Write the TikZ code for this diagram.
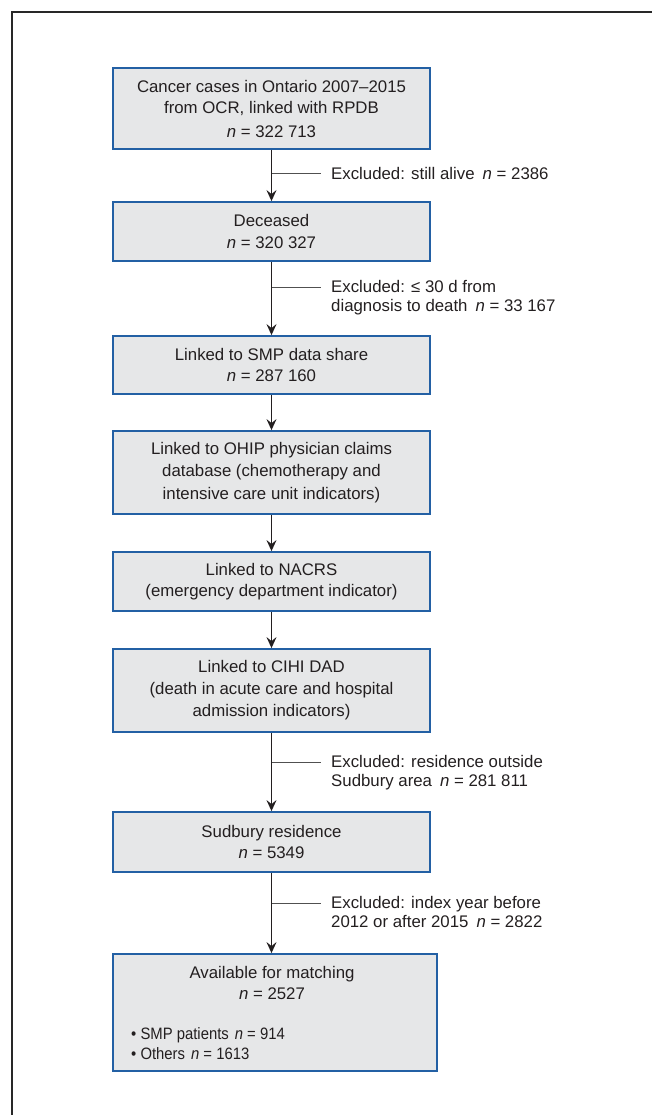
\documentclass[tikz,border=0pt]{standalone}
\usepackage{fontspec}
\setmainfont{Liberation Sans}
\usetikzlibrary{arrows.meta}
\definecolor{boxfill}{RGB}{230,231,232}
\definecolor{boxline}{RGB}{35,96,164}
\definecolor{ink}{RGB}{35,31,32}
\definecolor{exline}{RGB}{80,80,80}
\definecolor{frameline}{RGB}{40,40,40}
\newcommand{\gapn}{\hspace{8pt}\textit{n}}
\newcommand{\nn}{\textit{n}}
\tikzset{
  flowbox/.style={draw=boxline, line width=1.8pt, fill=boxfill, minimum width=317pt,
    inner sep=0pt, align=center, text=ink, font=\fontsize{16.8}{21.5}\selectfont},
  flowarrow/.style={draw=ink, line width=1.4pt, -{Stealth[length=11pt,width=10pt,inset=4pt]}},
  exclline/.style={draw=exline, line width=1pt},
  excltext/.style={anchor=north west, align=left, inner sep=0pt, text=ink,
    font=\fontsize{16.8}{19.5}\selectfont},
  plaintext/.style={inner sep=0pt, text=ink, font=\fontsize{16.8}{20.5}\selectfont},
}
\begin{document}
\begin{tikzpicture}[x=1pt,y=-1pt]
\useasboundingbox (0,0) rectangle (652,1115);
% frame (cropped)
\coordinate (fbl) at (12,1115);
\coordinate (ftl) at (12,12);
\coordinate (ftr) at (652,12);
\draw[frameline, line width=1.5pt] (fbl) -- (ftl) -- (ftr);

% boxes
\node[flowbox, minimum height=81pt] (b1) at (271.5,108.5)
  {Cancer cases in Ontario 2007–2015\\from OCR, linked with RPDB\\[2pt]\nn{} = 322 713};
\node[flowbox, minimum height=59pt] (b2) at (271.5,231.5)
  {Deceased\\\nn{} = 320 327};
\node[flowbox, minimum height=58pt] (b3) at (271.5,365)
  {Linked to SMP data share\\\nn{} = 287 160};
\node[flowbox, minimum height=83pt, font=\fontsize{16.8}{22.5}\selectfont] (b4) at (271.5,472.5)
  {Linked to OHIP physician claims\\database (chemotherapy and\\intensive care unit indicators)};
\node[flowbox, minimum height=59pt] (b5) at (271.5,581.5)
  {Linked to NACRS\\(emergency department indicator)};
\node[flowbox, minimum height=83pt, font=\fontsize{16.8}{22}\selectfont] (b6) at (271.5,690.5)
  {Linked to CIHI DAD\\(death in acute care and hospital\\admission indicators)};
\node[flowbox, minimum height=60pt] (b7) at (271.5,842)
  {Sudbury residence\\\nn{} = 5349};
\node[flowbox, minimum width=324pt, minimum height=117pt] (b8) at (275,1012.5) {};
\node[plaintext, align=center] (b8t) at (272,983) {Available for matching\\\nn{} = 2527};
\node[plaintext, anchor=west, align=left, font=\addfontfeature{FakeStretch=0.9}\fontsize{16.5}{19.5}\selectfont] (b8l) at (131,1043.5)
  {• SMP patients\hspace{6pt}\nn{} = 914\\• Others\hspace{6pt}\nn{} = 1613};

% main arrows
\draw[flowarrow] (b1) -- (b2);
\draw[flowarrow] (b2) -- (b3);
\draw[flowarrow] (b3) -- (b4);
\draw[flowarrow] (b4) -- (b5);
\draw[flowarrow] (b5) -- (b6);
\draw[flowarrow] (b6) -- (b7);
\draw[flowarrow] (b7.south) -- (b7.south |- b8.north);

% exclusions
\coordinate (e1) at (271.5,174);   \coordinate (e1end) at (321,174);
\coordinate (e2) at (271.5,287);   \coordinate (e2end) at (321,287);
\coordinate (e3) at (271.5,762);   \coordinate (e3end) at (321,762);
\coordinate (e4) at (271.5,903);   \coordinate (e4end) at (321,903);
\draw[exclline] (e1) -- (e1end);
\draw[exclline] (e2) -- (e2end);
\draw[exclline] (e3) -- (e3end);
\draw[exclline] (e4) -- (e4end);
\node[excltext] (x1) at (331,167) {Excluded: still alive\gapn{} = 2386};
\node[excltext] (x2) at (331,280) {Excluded: ≤ 30 d from\\diagnosis to death\gapn{} = 33 167};
\node[excltext] (x3) at (331,755) {Excluded: residence outside\\Sudbury area\gapn{} = 281 811};
\node[excltext] (x4) at (331,896) {Excluded: index year before\\2012 or after 2015\gapn{} = 2822};
\end{tikzpicture}
\end{document}
